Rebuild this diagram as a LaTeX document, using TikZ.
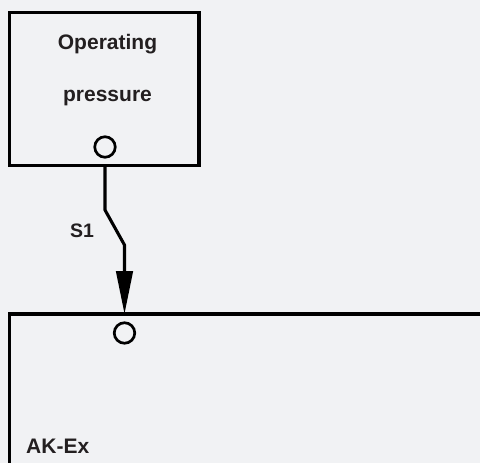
\documentclass[tikz,border=0pt]{standalone}
\usepackage{fontspec}
\setmainfont{Liberation Sans}
\usetikzlibrary{arrows.meta,calc}
\definecolor{bg}{HTML}{F1F2F4}
\definecolor{txt}{HTML}{231F20}
\begin{document}
\begin{tikzpicture}[x=1pt,y=-1pt,
  box/.style={draw=black,line width=3.2pt,rectangle,inner sep=0pt,outer sep=0pt},
  port/.style={draw=black,line width=2.7pt,circle,minimum size=20.5pt,inner sep=0pt},
  lbl/.style={text=txt,font=\fontsize{21}{24}\selectfont\bfseries,inner sep=0pt},
  conn/.style={draw=black,line width=3.1pt,-{Triangle[length=43pt,width=16.5pt]}}]
\useasboundingbox (0,0) rectangle (480,463);
\fill[bg] (0,0) rectangle (480,463);
\clip (0,0) rectangle (480,463);
\node[box,anchor=north west,minimum width=189.5pt,minimum height=153pt] (op) at (9.5,12.5) {};
\node[lbl,anchor=base] (t1) at (107.5,49) {Operating};
\node[lbl,anchor=base] (t2) at (107.5,101.5) {pressure};
\node[port] (c1) at (105,147) {};
\node[box,anchor=north west,minimum width=520pt,minimum height=200pt] (ak) at (9.5,314) {};
\node[port] (c2) at (124.5,333) {};
\node[lbl,anchor=base west] (ak-label) at (26,453) {AK-Ex};
\node[lbl,anchor=base west,font=\fontsize{19.5}{22}\selectfont\bfseries] (s1) at (70,237) {S1};
\coordinate (k1) at (105,210);
\coordinate (k2) at (124.5,245);
\draw[conn] (op.south -| c1) -- (k1) -- (k2) -- (ak.north -| c2);
\end{tikzpicture}
\end{document}
